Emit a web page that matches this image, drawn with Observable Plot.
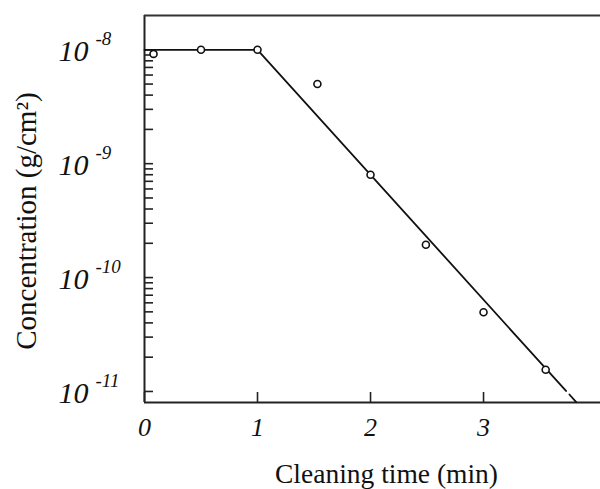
<!DOCTYPE html>
<html>
<head>
<meta charset="utf-8">
<script src="https://cdn.jsdelivr.net/npm/d3@7"></script>
<script src="https://cdn.jsdelivr.net/npm/@observablehq/plot@0.6"></script>
<style>
  html, body { margin: 0; padding: 0; background: #fff; }
  #chart svg { display: block; }
</style>
</head>
<body>
<div id="chart"></div>
<script>
// Measured data points
const time = [0.08, 0.5, 1.0, 1.53, 2.0, 2.49, 3.0, 3.55];
const conc = [9.2e-9, 1.0e-8, 1.0e-8, 5.0e-9, 8.0e-10, 1.94e-10, 4.96e-11, 1.55e-11];

// Fitted line (solid part) and its dashed extrapolation
const fitTime = [0, 1.0, 3.73];
const fitConc = [1.0e-8, 1.0e-8, 1.01e-11];
const dashTime = [3.76, 3.82];
const dashConc = [9.4e-12, 8.05e-12];

// Axes
const xTicks = [0, 1, 2, 3];
const xDomain = [0, 4.035];
const yDomain = [8.0e-12, 2.0e-8];
const yMajor = [1e-8, 1e-9, 1e-10, 1e-11];
const yExponent = ["-8", "-9", "-10", "-11"];
const yMantissa = [1, 2, 3, 4, 5, 6, 7, 8, 9];

const xLabel = "Cleaning time (min)";
const yLabel = "Concentration (g/cm\u00B2)";

const points = time.map((t, i) => ({t, c: conc[i]}));
const fit = fitTime.map((t, i) => ({t, c: fitConc[i]}));
const dash = dashTime.map((t, i) => ({t, c: dashConc[i]}));
const yMinor = yMajor.slice(1).flatMap(e => yMantissa.map(m => m * e)).concat([yMajor[0]]);
const majors = yMajor.map((v, i) => ({v, e: yExponent[i]}));

const serif = "'Liberation Serif', 'Times New Roman', serif";

const chart = Plot.plot({
  width: 600,
  height: 489,
  marginLeft: 144,
  marginRight: 0,
  marginTop: 15,
  marginBottom: 87,
  style: {fontFamily: serif, background: "#fff", color: "#111"},
  x: {domain: xDomain, axis: null},
  y: {type: "log", domain: yDomain, axis: null},
  marks: [
    // inward ticks
    Plot.axisY({ticks: yMinor, tickSize: -9, tickFormat: () => "", anchor: "left", strokeWidth: 1.6, stroke: "#222", label: null}),
    Plot.axisX({ticks: xTicks, tickSize: -10, tickFormat: () => "", anchor: "bottom", strokeWidth: 1.6, stroke: "#222", label: null}),
    // frame
    Plot.ruleX([xDomain[0]], {stroke: "#222", strokeWidth: 2}),
    Plot.ruleY([yDomain[0]], {stroke: "#222", strokeWidth: 2}),
    Plot.ruleY([yDomain[1]], {stroke: "#333", strokeWidth: 2}),
    // y tick labels 10^e
    Plot.text(majors, {y: "v", text: () => "10", frameAnchor: "left", textAnchor: "end", lineAnchor: "middle", dx: -56, dy: 2, fontSize: 30, fontStyle: "italic", fill: "#111"}),
    Plot.text(majors, {y: "v", text: "e", frameAnchor: "left", textAnchor: "start", lineAnchor: "middle", dx: -49, dy: -11, fontSize: 19, fontStyle: "italic", fill: "#111"}),
    // x tick labels
    Plot.text(xTicks, {x: d => d, text: d => String(d), frameAnchor: "bottom", lineAnchor: "middle", dy: 25, fontSize: 26, fontStyle: "italic", fill: "#111"}),
    // axis titles
    Plot.text([xLabel], {text: d => d, frameAnchor: "bottom", lineAnchor: "middle", textAnchor: "middle", dx: 14, dy: 72, fontSize: 27.5, fill: "#111"}),
    Plot.text([yLabel], {text: d => d, frameAnchor: "left", textAnchor: "middle", lineAnchor: "middle", rotate: -90, dx: -118, dy: 12, fontSize: 29, fill: "#111"}),
    // fit line
    Plot.line(fit, {x: "t", y: "c", stroke: "#111", strokeWidth: 1.8}),
    Plot.line(dash, {x: "t", y: "c", stroke: "#111", strokeWidth: 1.8}),
    // data points
    Plot.dot(points, {x: "t", y: "c", r: 3.5, stroke: "#111", strokeWidth: 1.6, fill: "white"})
  ]
});

document.getElementById("chart").appendChild(chart);
</script>
</body>
</html>
